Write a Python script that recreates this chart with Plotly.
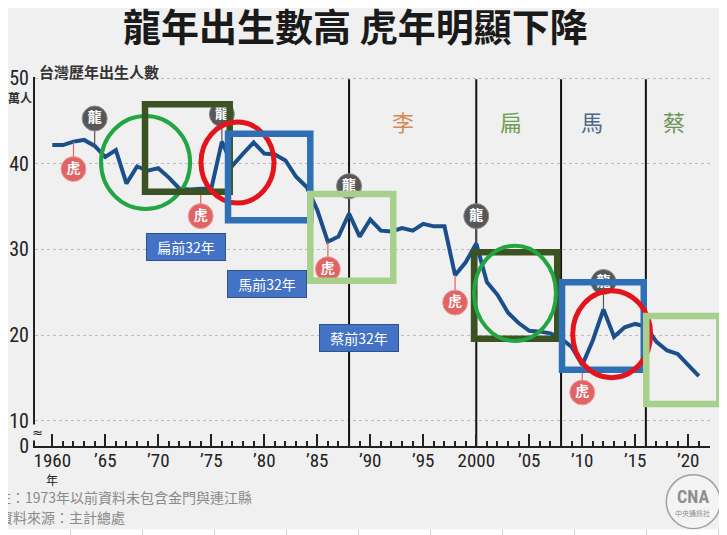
import plotly.graph_objects as go

# Taiwan births per year, in 10k persons
years = list(range(1960, 2022))
births = [42.2, 42.2, 42.6, 42.8, 42.1, 40.8, 41.6, 37.7, 39.7, 39.2,
          39.5, 38.4, 37.1, 37.0, 37.1, 37.1, 42.6, 39.8, 41.2, 42.5,
          41.2, 41.1, 40.4, 38.5, 37.3, 34.6, 30.9, 31.5, 34.2, 31.5,
          33.5, 32.2, 32.1, 32.5, 32.2, 33.0, 32.7, 32.7, 27.0, 28.5,
          30.7, 26.2, 24.7, 22.6, 21.4, 20.5, 20.4, 20.2, 19.6, 18.6,
          16.5, 19.4, 23.0, 19.8, 20.9, 21.3, 21.0, 19.2, 18.2, 17.8,
          16.5, 15.2]

dragon_years = [1964, 1976, 1988, 2000, 2012]
tiger_years = [1962, 1974, 1986, 1998, 2010]

# presidential terms
term_years = [1988, 2000, 2008, 2016]
presidents = ['李', '扁', '馬', '蔡']
president_label_x = [1993.1, 2003.3, 2010.9, 2018.7]
president_colors = ['#d4895a', '#6f9e52', '#4d6a8a', '#6f9457']

tick_years = list(range(1960, 2021, 5))
tick_text = [str(y) if y in (1960, 2000) else '’' + str(y)[2:] for y in tick_years]

Y0 = 7.04          # bottom of the broken axis, shown as "0"
Y1 = 50.15
OFFSET = 3.2       # distance of the 龍/虎 badges from the line
BG = '#f0f0f0'
CJK = 'Noto Sans CJK TC'
NARROW = 'Liberation Sans Narrow, Roboto Condensed, Roboto, sans-serif'

value = dict(zip(years, births))

fig = go.Figure()

# term boundary lines
vx, vy = [], []
for t in term_years:
    vx += [t, t, None]
    vy += [Y0, 49.9, None]
fig.add_trace(go.Scatter(x=vx, y=vy, mode='lines', line=dict(color='#111', width=2),
                         hoverinfo='skip'))

# births line
fig.add_trace(go.Scatter(x=years, y=births, mode='lines',
                         line=dict(color='#1b4f8b', width=4), hoverinfo='skip'))

# stems + badges
for yrs, sign, fill, edge, txt in [(dragon_years, 1, '#575757', '#8c8c8c', '龍'),
                                    (tiger_years, -1, '#e06464', '#f2a0a0', '虎')]:
    sx, sy = [], []
    for y in yrs:
        sx += [y, y, None]
        sy += [value[y], value[y] + sign * OFFSET, None]
    fig.add_trace(go.Scatter(x=sx, y=sy, mode='lines', line=dict(color=fill, width=1.2),
                             hoverinfo='skip'))
    fig.add_trace(go.Scatter(x=yrs, y=[value[y] + sign * OFFSET for y in yrs],
                             mode='markers+text', text=[txt] * len(yrs),
                             textposition='middle center',
                             textfont=dict(family=CJK, size=14, color='white', weight='bold'),
                             marker=dict(size=25, color=fill, line=dict(color=edge, width=1)),
                             hoverinfo='skip'))

# hand-drawn highlight boxes and circles (data coords)
overlays = [
    ('circle', '#21a642', 4, 1964.6, 1973.0, 34.73, 45.59),
    ('rect', '#3b5323', 6.5, 1968.75, 1976.74, 36.75, 46.96),
    ('circle', '#e3141c', 5, 1974.03, 1980.92, 35.43, 44.89),
    ('rect', '#2e6fb5', 6.5, 1976.58, 1984.34, 33.41, 43.53),
    ('rect', '#a8d08d', 6.5, 1984.34, 1992.17, 26.35, 36.48),
    ('rect', '#3b5323', 6.5, 1999.79, 2007.64, 19.58, 29.67),
    ('circle', '#21a642', 4, 1999.79, 2007.52, 19.31, 30.44),
    ('rect', '#2e6fb5', 6.5, 2008.09, 2015.8, 15.96, 26.17),
    ('circle', '#e3141c', 5, 2009.1, 2016.45, 15.02, 25.19),
]
shapes = []
for kind, col, w, x0, x1, y0, y1 in overlays:
    shapes.append(dict(type=kind, xref='x', yref='y', x0=x0, x1=x1, y0=y0, y1=y1,
                       line=dict(color=col, width=w)))
# last box runs past the axis end
shapes.append(dict(type='rect', xref='paper', yref='paper', x0=0.9056, x1=1.0138,
                   y0=0.1138, y1=0.3523, line=dict(color='#a8d08d', width=6.5)))

# CNA logo ring
shapes.append(dict(type='circle', xref='paper', yref='paper', x0=0.9353, x1=1.0153,
                   y0=-0.2241, y1=-0.0778, line=dict(color='#a0a0a0', width=1.5),
                   fillcolor='#f4f4f4'))
# spreadsheet edges around the picture
shapes.append(dict(type='rect', xref='paper', yref='paper', x0=-0.06, x1=1.03,
                   y0=-0.26, y1=-0.2263, line=dict(width=0), fillcolor='white'))
for k in range(10):
    px = 70.5 + 72 * k
    shapes.append(dict(type='line', xref='paper', yref='paper', x0=(px - 35) / 675,
                       x1=(px - 35) / 675, y0=-0.26, y1=-0.2263,
                       line=dict(color='#d0d0d0', width=1)))
shapes.append(dict(type='line', xref='paper', yref='paper', x0=1.0222, x1=1.0222,
                   y0=-0.2249, y1=1.2, line=dict(color='#dadada', width=1)))

annotations = [
    dict(text='<b>龍年出生數高 虎年明顯下降</b>', xref='paper', yref='paper', x=0.4748, y=1.1436,
         xanchor='center', yanchor='middle', showarrow=False,
         font=dict(family=CJK, size=38, color='#1a1a1a')),
    dict(text='<b>台灣歷年出生人數</b>', xref='paper', yref='paper', x=0.003, y=1.0149,
         xanchor='left', yanchor='middle', showarrow=False,
         font=dict(family=CJK, size=15, color='#333')),
    dict(text='<b>萬人</b>', xref='paper', yref='paper', x=-0.0215, y=0.9444,
         xanchor='center', yanchor='middle', showarrow=False,
         font=dict(family=CJK, size=12, color='#333')),
    dict(text='年', xref='x', yref='paper', x=1960, y=-0.09,
         xanchor='center', yanchor='middle', showarrow=False,
         font=dict(family=CJK, size=12, color='#222')),
    dict(text='≈', xref='paper', yref='paper', x=0.003, y=0.0366, xanchor='center',
         yanchor='middle', showarrow=False, bgcolor=BG, borderpad=0,
         font=dict(family='DejaVu Sans', size=13, color='#222')),
    dict(text='註：1973年以前資料未包含金門與連江縣', xref='paper', yref='paper', x=-0.0593,
         y=-0.1382, xanchor='left', yanchor='middle', showarrow=False,
         font=dict(family=CJK, size=14, color='#8a8a8a')),
    dict(text='資料來源：主計總處', xref='paper', yref='paper', x=-0.0563, y=-0.1924,
         xanchor='left', yanchor='middle', showarrow=False,
         font=dict(family=CJK, size=14, color='#8a8a8a')),
    dict(text='<b>CNA</b>', xref='paper', yref='paper', x=0.9748, y=-0.136,
         xanchor='center', yanchor='middle', showarrow=False,
         font=dict(family=NARROW, size=18, color='#8f8f8f')),
    dict(text='中央通訊社', xref='paper', yref='paper', x=0.9748, y=-0.1816,
         xanchor='center', yanchor='middle', showarrow=False,
         font=dict(family=CJK, size=7, color='#8f8f8f')),
]

for name, lx, col in zip(presidents, president_label_x, president_colors):
    annotations.append(dict(text=name, x=lx, y=45.0, xref='x', yref='y', showarrow=False,
                            font=dict(family=CJK, size=22, color=col)))

# "32 years before" labels
boxes = [('扁前32年', 1972.59, 30.27), ('馬前32年', 1980.3, 25.94), ('蔡前32年', 1988.96, 19.62)]
for txt, bx, by in boxes:
    annotations.append(dict(text=txt, x=bx, y=by, xref='x', yref='y', showarrow=False,
                            width=76, height=24, borderpad=1, borderwidth=1,
                            bgcolor='#4472c4', bordercolor='#2f528f',
                            font=dict(family=CJK, size=14, color='white')))

# the page body adds an 8px offset, so the plot box is placed 8px up/left
fig.update_layout(
    width=727, height=535,
    margin=dict(l=27, r=25, t=69, b=97, autoexpand=False),
    paper_bgcolor=BG, plot_bgcolor=BG,
    showlegend=False,
    shapes=shapes, annotations=annotations,
    xaxis=dict(range=[1958.37, 2022.05], tickmode='array', tickvals=tick_years,
               ticktext=tick_text, ticks='inside', ticklen=12, tickwidth=1.5,
               tickcolor='#222', showgrid=False, zeroline=False, automargin=False,
               showline=True, linecolor='#222', linewidth=2, ticklabelstandoff=-4,
               tickfont=dict(family=NARROW, size=19, color='#222'),
               minor=dict(tickmode='array', tickvals=[y for y in range(1961, 2022) if y % 5],
                          ticks='inside', ticklen=5, tickwidth=1.5, tickcolor='#222')),
    yaxis=dict(range=[Y0, Y1], tickmode='array', tickvals=[Y0, 10, 20, 30, 40, 50],
               ticktext=['0', '10', '20', '30', '40', '50'], ticks='',
               showgrid=True, gridcolor='#bdbdbd', griddash='dot', gridwidth=1,
               zeroline=False, showline=True, linecolor='#222', linewidth=2,
               ticklabelstandoff=0, automargin=False,
               tickfont=dict(family=NARROW, size=20, color='#222')),
)

fig.write_html("out.html")
